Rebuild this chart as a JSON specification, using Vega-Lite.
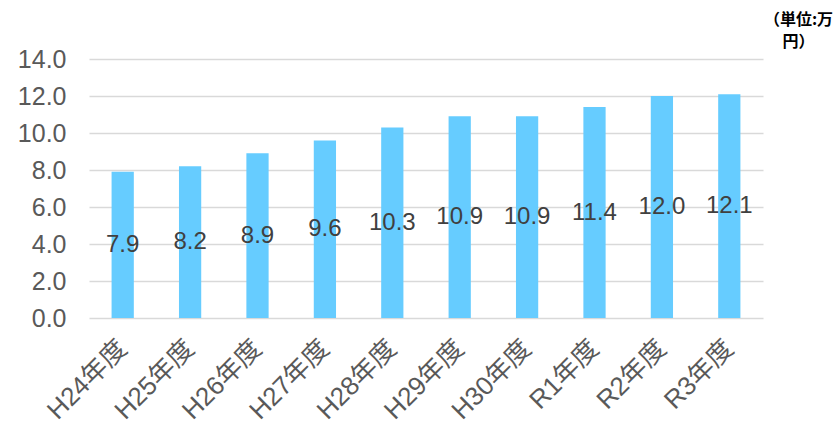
{
  "$schema": "https://vega.github.io/schema/vega-lite/v6.json",
  "autosize": "none",
  "width": 674,
  "height": 259,
  "padding": {"left": 89, "top": 59, "right": 72, "bottom": 107},
  "background": "white",
  "config": {
    "view": {"stroke": null},
    "font": "Liberation Sans, Noto Sans CJK JP, sans-serif"
  },
  "data": {
    "values": [
      {"year": "H24年度", "amount": 7.9},
      {"year": "H25年度", "amount": 8.2},
      {"year": "H26年度", "amount": 8.9},
      {"year": "H27年度", "amount": 9.6},
      {"year": "H28年度", "amount": 10.3},
      {"year": "H29年度", "amount": 10.9},
      {"year": "H30年度", "amount": 10.9},
      {"year": "R1年度", "amount": 11.4},
      {"year": "R2年度", "amount": 12.0},
      {"year": "R3年度", "amount": 12.1}
    ]
  },
  "encoding": {
    "x": {
      "field": "year",
      "type": "nominal",
      "sort": null,
      "scale": {"paddingInner": 0.67, "paddingOuter": 0.335},
      "axis": {
        "title": null,
        "domain": false,
        "ticks": false,
        "labelAngle": -45,
        "labelAlign": "right",
        "labelBaseline": "middle",
        "labelPadding": 26,
        "labelFont": "Liberation Sans, Noto Sans CJK JP, sans-serif",
        "labelFontSize": 26,
        "labelColor": "#595959"
      }
    }
  },
  "layer": [
    {
      "mark": {"type": "bar", "color": "#66CCFF"},
      "encoding": {
        "y": {
          "field": "amount",
          "type": "quantitative",
          "scale": {"domain": [0, 14]},
          "axis": {
            "values": [0, 2, 4, 6, 8, 10, 12, 14],
            "format": ".1f",
            "domain": false,
            "ticks": false,
            "grid": true,
            "gridColor": "#d9d9d9",
            "gridWidth": 1.5,
            "labelPadding": 23,
            "labelFont": "Liberation Sans, sans-serif",
            "labelFontSize": 25,
            "labelColor": "#595959",
            "title": ["（単位:万", "円）"],
            "titleAngle": 0,
            "titleAlign": "center",
            "titleBaseline": "top",
            "titleX": 709,
            "titleY": -48,
            "titleFont": "Noto Sans CJK JP",
            "titleFontWeight": "bold",
            "titleFontSize": 16,
            "titleLineHeight": 22,
            "titleColor": "#000000"
          }
        }
      }
    },
    {
      "mark": {
        "type": "text",
        "baseline": "middle",
        "align": "center",
        "fontSize": 24,
        "font": "Liberation Sans, sans-serif",
        "color": "#404040"
      },
      "encoding": {
        "y": {
          "field": "amount",
          "type": "quantitative",
          "scale": {"domain": [0, 28]},
          "axis": null
        },
        "text": {"field": "amount", "type": "quantitative", "format": ".1f"}
      }
    }
  ],
  "resolve": {"scale": {"y": "independent"}}
}
